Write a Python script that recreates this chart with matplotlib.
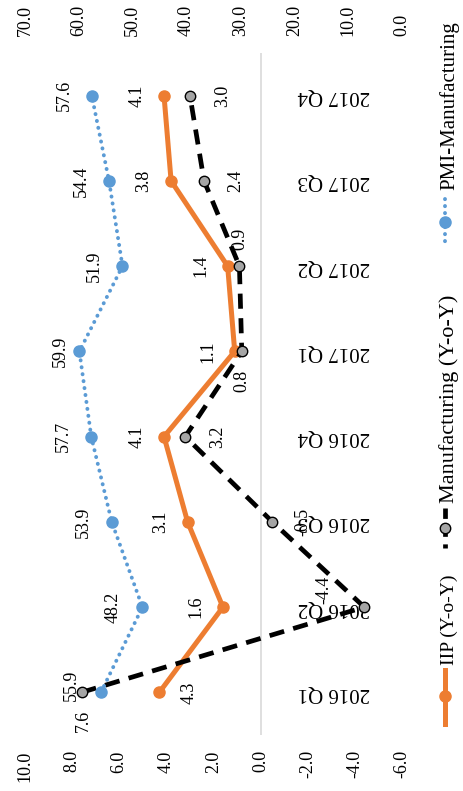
import matplotlib
matplotlib.use("Agg")
import matplotlib.pyplot as plt
from matplotlib.lines import Line2D
import numpy as np

plt.rcParams['font.family'] = ['Liberation Serif', 'DejaVu Serif']

categories = ["2016 Q1", "2016 Q2", "2016 Q3", "2016 Q4", "2017 Q1", "2017 Q2", "2017 Q3", "2017 Q4"]
iip = [4.3, 1.6, 3.1, 4.1, 1.1, 1.4, 3.8, 4.1]
mfg = [7.6, -4.4, -0.5, 3.2, 0.8, 0.9, 2.4, 3.0]
pmi = [55.9, 48.2, 53.9, 57.7, 59.9, 51.9, 54.4, 57.6]
primary_ticks = [10, 8, 6, 4, 2, 0, -2, -4, -6]
secondary_ticks = [70, 60, 50, 40, 30, 20, 10, 0]
series_names = ["IIP (Y-o-Y)", "Manufacturing (Y-o-Y)", "PMI-Manufacturing"]

ORANGE = "#ED7D31"
BLUE = "#5B9BD5"
GREY = "#A5A5A5"

W, H = 464, 791
fig = plt.figure(figsize=(W / 100, H / 100), dpi=100)

def fx(x):
    return x / W

def fy(y):
    return 1 - y / H

left, right, top, bottom = 25, 402, 53, 735
ax = fig.add_axes([fx(left), fy(bottom), (right - left) / W, (bottom - top) / H])
idx = np.arange(len(categories))

ax.set_xlim(10, -6)
ax.set_ylim(-0.5, len(categories) - 0.5)
for s in ax.spines.values():
    s.set_visible(False)
ax.set_yticks([])
ax.set_xticks(primary_ticks)
ax.set_xticklabels([f"{t:.1f}" for t in primary_ticks], rotation=90, fontsize=13)
ax.tick_params(axis='x', length=0, pad=11)
ax.axvline(0, color="#D9D9D9", lw=1.2, zorder=1)

ax2 = ax.twiny()
ax2.set_xlim(70, 0)
for s in ax2.spines.values():
    s.set_visible(False)
ax2.set_xticks(secondary_ticks)
ax2.set_xticklabels([f"{t:.1f}" for t in secondary_ticks], rotation=90, fontsize=13)
ax2.tick_params(axis='x', length=0, pad=12)

# series
ax.plot(iip, idx, color=ORANGE, lw=3.6, marker='o', ms=8, zorder=3,
        solid_capstyle='round')
ax.plot(mfg, idx, color='black', lw=3.4, ls=(0, (3.2, 2.0)), marker='o', ms=7.5,
        markerfacecolor=GREY, markeredgecolor='black', markeredgewidth=1.0, zorder=4)
ax2.plot(pmi, idx, color=BLUE, lw=2.8, ls=(0, (0.05, 1.75)), dash_capstyle='round',
         marker='o', ms=8, markerfacecolor=BLUE, markeredgecolor=BLUE, zorder=5)

# category labels (upside-down, next to the zero line)
for i, c in enumerate(categories):
    ax.text(-3.1, i, c, rotation=180, ha='center', va='center', fontsize=15)

# data labels
iip_off = [(30, 0)] + [(-27, 0)] * 7
mfg_off = [(2, -28), (-40, 17), (30, 0), (32, 0), (0, -30), (0, 27), (32, 0), (33, 0)]
pmi_off = [(-30, 7), (-29, 0), (-28, 0), (-28, 0), (-19, 0), (-28, 0), (-28, 0), (-27, 0)]
for i in range(len(categories)):
    ax.annotate(f"{iip[i]:.1f}", (iip[i], i), xytext=iip_off[i], textcoords='offset pixels',
                rotation=90, ha='center', va='center', fontsize=13, zorder=6)
    ax.annotate(f"{mfg[i]:.1f}", (mfg[i], i), xytext=mfg_off[i], textcoords='offset pixels',
                rotation=90, ha='center', va='center', fontsize=13, zorder=6)
    ax2.annotate(f"{pmi[i]:.1f}", (pmi[i], i), xytext=pmi_off[i], textcoords='offset pixels',
                 rotation=90, ha='center', va='center', fontsize=13, zorder=6)

# legend (rotated, along the right edge)
lx = 445
# IIP
fig.add_artist(Line2D([fx(lx), fx(lx)], [fy(670), fy(724)], transform=fig.transFigure,
                      color=ORANGE, lw=3.6))
fig.add_artist(Line2D([fx(lx)], [fy(696)], transform=fig.transFigure, color=ORANGE,
                      marker='o', ms=8, lw=0))
fig.text(fx(449), fy(665), series_names[0], rotation=90, ha='center', va='bottom', fontsize=14)
# Manufacturing
fig.add_artist(Line2D([fx(lx), fx(lx)], [fy(508), fy(548)], transform=fig.transFigure,
                      color='black', lw=3.4, ls=(0, (2.2, 1.6))))
fig.add_artist(Line2D([fx(lx)], [fy(528)], transform=fig.transFigure, marker='o', ms=7.5,
                      markerfacecolor=GREY, markeredgecolor='black', lw=0))
fig.text(fx(449), fy(503), series_names[1], rotation=90, ha='center', va='bottom', fontsize=16)
# PMI
fig.add_artist(Line2D([fx(lx), fx(lx)], [fy(199), fy(248)], transform=fig.transFigure,
                      color=BLUE, lw=2.8, ls=(0, (0.05, 1.75)), dash_capstyle='round'))
fig.add_artist(Line2D([fx(lx)], [fy(222)], transform=fig.transFigure, marker='o', ms=8,
                      color=BLUE, lw=0))
fig.text(fx(449), fy(190), series_names[2], rotation=90, ha='center', va='bottom', fontsize=15)

fig.savefig("out.png", dpi=100)
